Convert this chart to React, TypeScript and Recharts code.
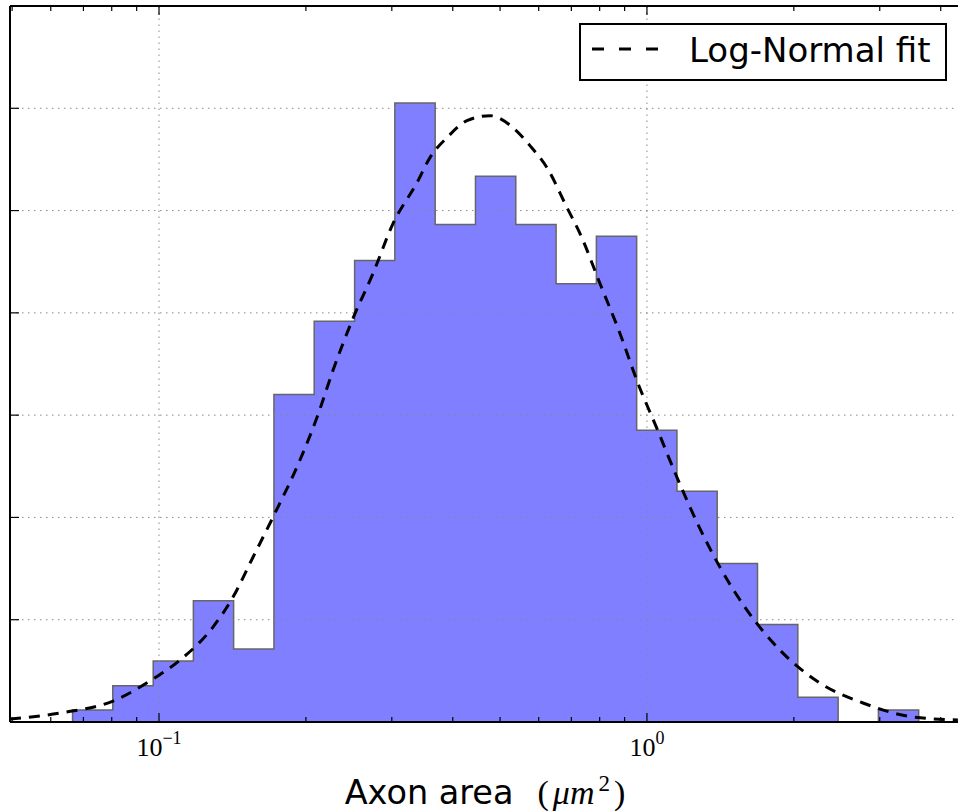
import React from 'react';
import { ComposedChart, Area, Line, XAxis, YAxis, ReferenceLine, Legend } from 'recharts';

// histogram bins (log spaced), edges in um^2
const binEdges = [
  0.0665, 0.0804, 0.0973, 0.1176, 0.1422, 0.172, 0.208, 0.2517, 0.3043, 0.3681, 0.4452,
  0.5385, 0.6513, 0.7877, 0.9526, 1.152, 1.393, 1.685, 2.038, 2.465, 2.981, 3.605,
];
const binHeights = [
  0.117, 0.354, 0.596, 1.185, 0.713, 3.203, 3.919, 4.512, 6.052, 4.863, 5.335,
  4.863, 4.284, 4.749, 2.852, 2.256, 1.55, 0.954, 0.241, 0, 0.117,
];

// log-normal fit
const fitX = [
  0.0495, 0.0627, 0.0805, 0.0972, 0.1104, 0.129, 0.1418, 0.1558, 0.172, 0.1944, 0.2108,
  0.2273, 0.2497, 0.2745, 0.3017, 0.3379, 0.3592, 0.3892, 0.4277, 0.4768, 0.5314, 0.5757,
  0.6238, 0.6857, 0.7292, 0.8012, 0.8805, 0.9585, 1.048, 1.152, 1.266, 1.411, 1.603,
  1.873, 2.262, 2.772, 3.509, 4.338,
];
const fitY = [
  0.029, 0.088, 0.205, 0.42, 0.605, 0.928, 1.221, 1.611, 2.021, 2.559, 2.979,
  3.438, 3.945, 4.385, 4.873, 5.273, 5.518, 5.713, 5.879, 5.928, 5.811, 5.635,
  5.42, 5.029, 4.775, 4.287, 3.799, 3.311, 2.871, 2.393, 1.953, 1.514, 1.094,
  0.703, 0.381, 0.186, 0.049, 0.02,
];

const xDomain = [0.0495, 4.34];
const majorTicks = [0.1, 1];
const majorExps = ['\u22121', '0'];
const xTicks = [0.05, 0.06, 0.07, 0.08, 0.09, 0.1, 0.2, 0.3, 0.4, 0.5, 0.6, 0.7, 0.8, 0.9, 1, 2, 3, 4];
const yTicks = [0, 1, 2, 3, 4, 5, 6, 7];
const gridY = [1, 2, 3, 4, 5, 6];

const histData = [
  { x: binEdges[0], h: 0 },
  ...binHeights.map((h, i) => ({ x: binEdges[i], h })),
  { x: binEdges[binEdges.length - 1], h: 0 },
];
const fitData = fitX.map((x, i) => ({ x, y: fitY[i] }));

const gridStyle = { stroke: '#8a8a8a', strokeWidth: 1, strokeDasharray: '1.5 4.5' };

function BottomTick({ x, y, payload }: any) {
  const idx = majorTicks.indexOf(payload.value);
  const major = idx >= 0;
  return (
    <g>
      <line x1={x} x2={x} y1={y} y2={y - (major ? 9 : 5)} stroke="#000" strokeWidth={1.2} />
      {major && (
        <text x={x} y={y + 34} textAnchor="middle" fontFamily="Liberation Serif" fontSize={26} fill="#000">
          10
          <tspan dy={-12} fontSize={18}>{majorExps[idx]}</tspan>
        </text>
      )}
    </g>
  );
}

function TopTick({ x, y, payload }: any) {
  const major = majorTicks.indexOf(payload.value) >= 0;
  return <line x1={x} x2={x} y1={y} y2={y + (major ? 9 : 5)} stroke="#000" strokeWidth={1.2} />;
}

function LeftTick({ x, y }: any) {
  return <line x1={x} x2={x + 9} y1={y} y2={y} stroke="#000" strokeWidth={1.2} />;
}

function XLabel({ viewBox }: any) {
  const cx = viewBox.x + viewBox.width / 2;
  return (
    <text x={cx + 1} y={804} textAnchor="middle" fill="#000">
      <tspan fontFamily="DejaVu Sans" fontSize={33.5}>Axon area</tspan>
      <tspan dx={24} fontFamily="Liberation Serif" fontSize={34}>(</tspan>
      <tspan dx={4} fontFamily="Liberation Serif" fontStyle="italic" fontSize={34}>μm</tspan>
      <tspan dx={4} dy={-13} fontFamily="Liberation Serif" fontSize={23}>2</tspan>
      <tspan dx={4} dy={13} fontFamily="Liberation Serif" fontSize={34}>)</tspan>
    </text>
  );
}

function FitLegend() {
  return (
    <div
      style={{
        position: 'relative',
        boxSizing: 'border-box',
        width: 368,
        height: 58,
        border: '2px solid #000',
        background: '#fff',
      }}
    >
      <svg width={80} height={54} style={{ position: 'absolute', left: 0, top: 0 }}>
        <line x1={11} x2={77} y1={24} y2={24} stroke="#000" strokeWidth={3} strokeDasharray="12 15" />
      </svg>
      <span
        style={{
          position: 'absolute',
          left: 108,
          top: 5,
          fontFamily: 'DejaVu Sans',
          fontSize: 34,
          lineHeight: 'normal',
          color: '#000',
          whiteSpace: 'nowrap',
        }}
      >
        Log-Normal fit
      </span>
    </div>
  );
}

export default function App() {
  return (
    <div style={{ position: 'absolute', left: 0, top: 0, width: 958, height: 812, overflow: 'hidden', background: '#fff' }}>
      <ComposedChart width={958} height={812} margin={{ top: 5, right: 0, left: 9, bottom: 0 }}>
        <XAxis
          xAxisId="b"
          type="number"
          dataKey="x"
          scale="log"
          domain={xDomain}
          allowDataOverflow
          ticks={xTicks}
          interval={0}
          height={90}
          tickSize={0}
          tickMargin={0}
          tickLine={false}
          axisLine={{ stroke: '#000', strokeWidth: 2 }}
          tick={<BottomTick />}
          label={<XLabel />}
        />
        <XAxis
          xAxisId="t"
          orientation="top"
          type="number"
          dataKey="x"
          scale="log"
          domain={xDomain}
          allowDataOverflow
          ticks={xTicks}
          interval={0}
          height={1}
          tickSize={0}
          tickMargin={0}
          tickLine={false}
          axisLine={{ stroke: '#000', strokeWidth: 2 }}
          tick={<TopTick />}
        />
        <YAxis
          type="number"
          domain={[0, 7]}
          ticks={yTicks}
          interval={0}
          width={1}
          tickSize={0}
          tickMargin={0}
          tickLine={false}
          axisLine={{ stroke: '#000', strokeWidth: 2 }}
          tick={<LeftTick />}
        />
        <Area
          xAxisId="b"
          data={histData}
          dataKey="h"
          type="stepAfter"
          fill="#7f7fff"
          fillOpacity={1}
          stroke="#666"
          strokeWidth={1.5}
          legendType="none"
          isAnimationActive={false}
        />
        <Area
          xAxisId="t"
          data={histData}
          dataKey="h"
          type="stepAfter"
          fill="none"
          stroke="none"
          legendType="none"
          isAnimationActive={false}
        />
        {gridY.map((v) => (
          <ReferenceLine key={'gy' + v} xAxisId="b" y={v} {...gridStyle} />
        ))}
        {majorTicks.map((v) => (
          <ReferenceLine key={'gx' + v} xAxisId="b" x={v} {...gridStyle} />
        ))}
        <Line
          xAxisId="b"
          data={fitData}
          dataKey="y"
          name="Log-Normal fit"
          type="monotone"
          stroke="#000"
          strokeWidth={3}
          strokeDasharray="11 8"
          dot={false}
          activeDot={false}
          isAnimationActive={false}
        />
        <Legend
          layout="horizontal"
          verticalAlign="middle"
          align="center"
          wrapperStyle={{ left: 579, top: 23, width: 368, height: 58 }}
          content={<FitLegend />}
        />
      </ComposedChart>
    </div>
  );
}
